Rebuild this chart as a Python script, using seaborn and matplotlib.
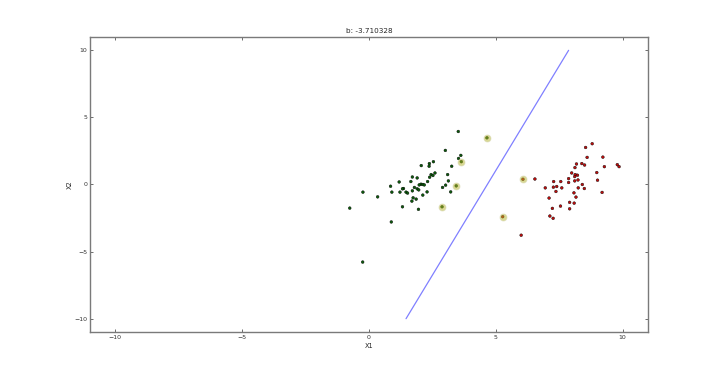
import matplotlib
matplotlib.use("Agg")
import matplotlib.pyplot as plt
import seaborn as sns
import pandas as pd

# class -1 (green) points
green_x = [3.52, 3.01, 3.62, 3.53, 3.64, 2.54, 2.38, 2.06, 2.37, 3.26, 2.60, 3.10, 2.45, 2.52,
           1.71, 1.90, 2.39, 3.13, 1.19, 1.65, 2.31, 2.05, 2.12, 2.18, 1.98, 3.02, 3.44, 0.85,
           1.79, 2.90, 1.36, 1.32, 1.90, 1.96, 1.71, -0.24, 0.90, 1.22, 1.46, 1.52, 2.29, 3.22,
           2.12, 0.34, 1.74, 1.86, 1.69, 1.32, 2.88, 1.95, -0.76, 0.88, -0.25, 4.65]
green_y = [3.95, 2.54, 2.17, 1.94, 1.70, 1.70, 1.56, 1.41, 1.36, 1.36, 0.86, 0.74, 0.74, 0.67,
           0.56, 0.49, 0.54, 0.27, 0.19, 0.22, 0.22, 0.02, 0.00, -0.03, -0.03, -0.05, -0.10, -0.13,
           -0.22, -0.22, -0.30, -0.32, -0.32, -0.40, -0.47, -0.57, -0.57, -0.57, -0.57, -0.64, -0.55, -0.55,
           -0.79, -0.92, -0.99, -1.09, -1.24, -1.66, -1.66, -1.85, -1.76, -2.79, -5.78, 3.48]

# class +1 (red) points
red_x = [8.80, 8.54, 9.22, 8.60, 8.18, 8.39, 8.50, 9.28, 9.79, 9.86, 8.12, 7.99, 8.98, 8.13,
         8.22, 8.11, 7.87, 6.54, 8.24, 8.11, 9.01, 7.28, 7.56, 7.87, 8.41, 7.40, 7.27, 7.60,
         6.95, 8.25, 8.49, 7.37, 8.08, 9.19, 8.16, 7.10, 7.91, 8.09, 7.55, 7.23, 7.91, 7.13,
         7.26, 6.00, 6.07, 5.27]
red_y = [3.04, 2.76, 2.04, 2.02, 1.53, 1.56, 1.45, 1.33, 1.48, 1.33, 1.26, 0.86, 0.89, 0.74,
         0.69, 0.59, 0.44, 0.41, 0.34, 0.27, 0.32, 0.22, 0.22, 0.15, 0.00, -0.15, -0.20, -0.25,
         -0.25, -0.25, -0.30, -0.52, -0.62, -0.59, -0.94, -1.01, -1.33, -1.39, -1.61, -1.78, -1.81, -2.35,
         -2.52, -3.78, 0.39, -2.40]

# support vectors
sv_x = [4.65, 3.64, 3.44, 2.88, 6.07, 5.27]
sv_y = [3.48, 1.70, -0.10, -1.66, 0.39, -2.40]

# separating line
line_x = [1.46, 7.87]
line_y = [-10.0, 10.0]

title_text = "b: -3.710328"
ticks = [-10, -5, 0, 5, 10]

df = pd.DataFrame({
    "X1": green_x + red_x,
    "X2": green_y + red_y,
    "cls": ["neg"] * len(green_x) + ["pos"] * len(red_x),
})
sv_df = pd.DataFrame({"X1": sv_x, "X2": sv_y})
line_df = pd.DataFrame({"X1": line_x, "X2": line_y})

sns.set_style("white")
plt.rcParams["font.family"] = ["DejaVu Sans"]

fig = plt.figure(figsize=(7.2, 3.69), dpi=100)
ax = fig.add_axes([0.125, 0.1, 0.775, 0.8])

sns.lineplot(data=line_df, x="X1", y="X2", ax=ax, color="blue", alpha=0.5,
             linewidth=0.9, sort=False, estimator=None)
sns.scatterplot(data=df, x="X1", y="X2", hue="cls",
                palette={"neg": "#0b5a0b", "pos": "#c00c0c"},
                s=4, edgecolor="black", linewidth=0.3, ax=ax, legend=False, zorder=3)
sns.scatterplot(data=sv_df, x="X1", y="X2", color="#b4b428", alpha=0.5,
                s=24, edgecolor="#d0d0a0", linewidth=0.8, ax=ax, legend=False, zorder=4)

ax.set_xlim(-11, 11)
ax.set_ylim(-11, 11)
ax.set_xticks(ticks)
ax.set_yticks(ticks)
ax.set_xticklabels([str(t).replace("-", "\u2212") for t in ticks])
ax.set_yticklabels([str(t).replace("-", "\u2212") for t in ticks])
ax.tick_params(direction="in", length=2.5, width=0.6, colors="#555555",
               labelsize=4.5, labelcolor="#333333", pad=2,
               top=True, right=True, bottom=True, left=True)
for sp in ax.spines.values():
    sp.set_color("#7a7a7a")
    sp.set_linewidth(1.0)
    sp.set_visible(True)

ax.set_xlabel("X1", fontsize=4.8, labelpad=2)
ax.set_ylabel("X2", fontsize=4.8, labelpad=1)
ax.set_title(title_text, fontsize=5.2, pad=3)

fig.savefig("out.png", dpi=100, facecolor="white")
